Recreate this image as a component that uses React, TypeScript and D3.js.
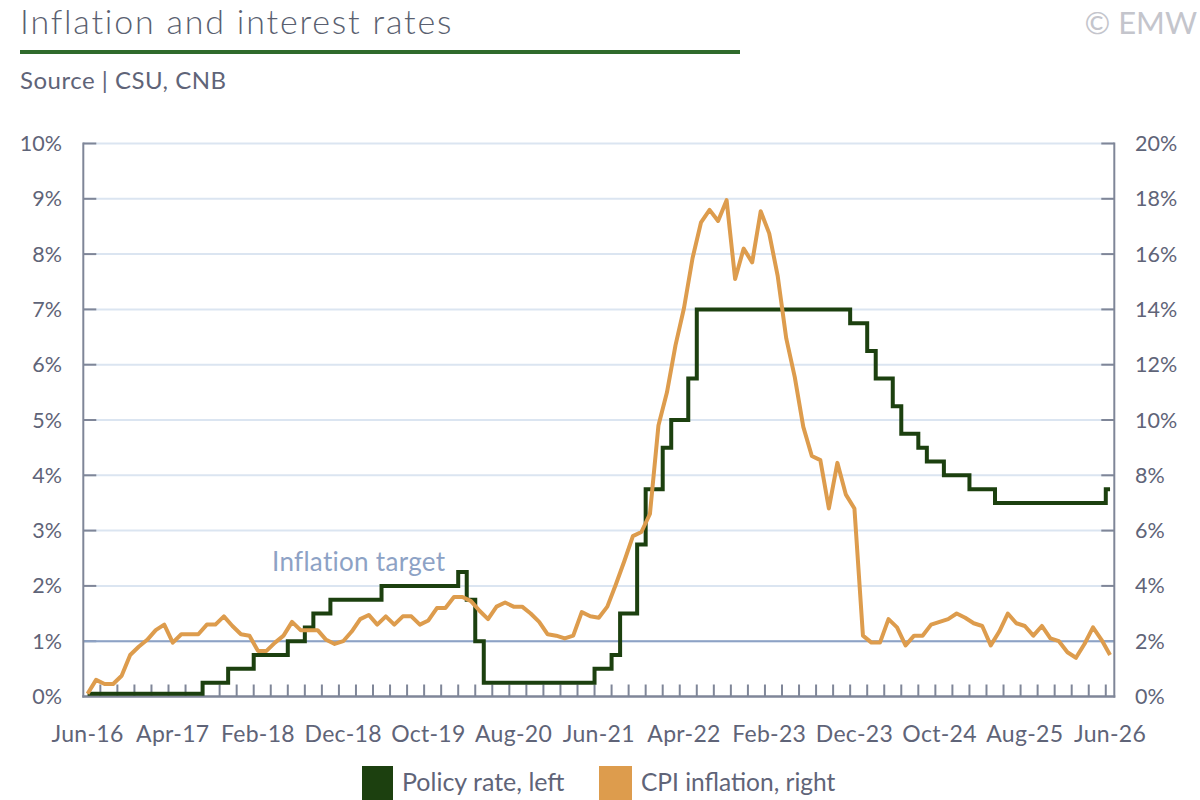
import { useEffect } from "react";
import * as d3 from "d3";

const width = 1200;
const height = 800;

// months Jun-16 .. Jun-26
const months = d3.timeMonths(new Date(2016, 5, 1), new Date(2026, 6, 1));
const monthFormat = d3.timeFormat("%b-%y");

const tickLabels = ["Jun-16", "Apr-17", "Feb-18", "Dec-18", "Oct-19", "Aug-20", "Jun-21",
    "Apr-22", "Feb-23", "Dec-23", "Oct-24", "Aug-25", "Jun-26"];
const leftTicks = [0, 1, 2, 3, 4, 5, 6, 7, 8, 9, 10];
const rightTicks = [0, 2, 4, 6, 8, 10, 12, 14, 16, 18, 20];

// CNB policy rate, % (left axis)
const policyRate = [
    0.05, 0.05, 0.05, 0.05, 0.05, 0.05, 0.05, 0.05, 0.05, 0.05, 0.05, 0.05, 0.05, 0.05,
    0.25, 0.25, 0.25, 0.5, 0.5, 0.5, 0.75, 0.75, 0.75, 0.75, 1.0, 1.0, 1.25, 1.5, 1.5,
    1.75, 1.75, 1.75, 1.75, 1.75, 1.75, 2.0, 2.0, 2.0, 2.0, 2.0, 2.0, 2.0, 2.0, 2.0,
    2.25, 1.75, 1.0, 0.25, 0.25, 0.25, 0.25, 0.25, 0.25, 0.25, 0.25, 0.25, 0.25, 0.25,
    0.25, 0.25, 0.5, 0.5, 0.75, 1.5, 1.5, 2.75, 3.75, 3.75, 4.5, 5.0, 5.0, 5.75,
    7.0, 7.0, 7.0, 7.0, 7.0, 7.0, 7.0, 7.0, 7.0, 7.0, 7.0, 7.0, 7.0, 7.0, 7.0, 7.0, 7.0, 7.0,
    6.75, 6.75, 6.25, 5.75, 5.75, 5.25, 4.75, 4.75, 4.5, 4.25, 4.25, 4.0, 4.0, 4.0,
    3.75, 3.75, 3.75, 3.5, 3.5, 3.5, 3.5, 3.5, 3.5, 3.5, 3.5, 3.5, 3.5, 3.5, 3.5, 3.5,
    3.75,
];

// CPI inflation y/y, % (right axis)
const cpiInflation = [
    0.1, 0.6, 0.45, 0.45, 0.75, 1.5, 1.8, 2.05, 2.4, 2.6, 1.95, 2.25, 2.25, 2.25, 2.6, 2.6,
    2.9, 2.55, 2.25, 2.2, 1.65, 1.65, 1.95, 2.2, 2.7, 2.4, 2.4, 2.4, 2.05, 1.9, 2.0, 2.35,
    2.8, 2.95, 2.6, 2.9, 2.6, 2.9, 2.9, 2.6, 2.75, 3.2, 3.2, 3.6, 3.6, 3.45, 3.1, 2.8,
    3.25, 3.4, 3.25, 3.25, 3.0, 2.7, 2.25, 2.2, 2.1, 2.2, 3.05, 2.9, 2.85, 3.25, 4.05, 4.9,
    5.8, 5.95, 6.6, 9.8, 11.0, 12.7, 14.05, 15.85, 17.15, 17.6, 17.2, 17.95, 15.1, 16.2,
    15.7, 17.55, 16.75, 15.2, 12.95, 11.55, 9.75, 8.7, 8.55, 6.8, 8.45, 7.3, 6.8, 2.2,
    1.95, 1.95, 2.8, 2.5, 1.85, 2.2, 2.2, 2.6, 2.7, 2.8, 3.0, 2.85, 2.65, 2.55, 1.85, 2.35,
    3.0, 2.65, 2.55, 2.2, 2.55, 2.1, 2.0, 1.6, 1.4, 1.9, 2.5, 2.05, 1.5,
];

const inflationTarget = 2; // % on right axis

const textColor = "#5f6478";
const axisColor = "#7f8698";
const gridColor = "#dbe5f1";
const targetColor = "#8da2c5";
const policyColor = "#1c400f";
const cpiColor = "#dd9c4d";
const font = "Lato, 'Open Sans', sans-serif";

export default function App() {
    useEffect(() => {
        document.body.style.margin = "0";
    }, []);

    const left = 83.3;
    const right = 1114.3;
    const top = 143.5;
    const bottom = 696.5;

    const x = d3.scaleBand<number>()
        .domain(d3.range(months.length))
        .range([left, right])
        .padding(0);
    const xc = (i: number) => (x(i) as number) + x.bandwidth() / 2;

    const yL = d3.scaleLinear().domain([0, 10]).range([bottom, top]);
    const yR = d3.scaleLinear().domain([0, 20]).range([bottom, top]);

    const policyLine = d3.line<number>()
        .x((_, i) => xc(i))
        .y((d) => yL(d))
        .curve(d3.curveStep);

    const cpiLine = d3.line<number>()
        .x((_, i) => xc(i))
        .y((d) => yR(d));

    const minorTicks = d3.range(2, months.length, 2);

    return (
        <svg width={width} height={height} style={{ display: "block", background: "#fff" }}
            fontFamily={font}>
            <text x={20} y={33.5} fontSize={34} letterSpacing={1.8} fontWeight={300}
                fill="#5a5f70">Inflation and interest rates</text>
            <rect x={20} y={50} width={720} height={4} fill="#2f6b2c" />
            <text x={20} y={89} fontSize={24} letterSpacing={0.5} fill={textColor}>Source | CSU, CNB</text>
            <text x={1197} y={34} fontSize={31} fill="#c4c5cc" textAnchor="end">© EMW</text>

            {/* gridlines */}
            {leftTicks.filter((t) => t > 0).map((t) => (
                <g key={"g" + t}>
                    <line x1={left} x2={right} y1={yL(t)} y2={yL(t)} stroke={gridColor} strokeWidth={2} />
                    <line x1={left} x2={left + 13} y1={yL(t)} y2={yL(t)} stroke={axisColor} strokeWidth={2} />
                    <line x1={right - 13} x2={right} y1={yL(t)} y2={yL(t)} stroke={axisColor} strokeWidth={2} />
                </g>
            ))}
            <line x1={left} x2={right} y1={yR(inflationTarget)} y2={yR(inflationTarget)}
                stroke={targetColor} strokeWidth={2} />

            {/* axes */}
            <line x1={left} x2={left} y1={top - 1} y2={bottom + 1} stroke={axisColor} strokeWidth={2} />
            <line x1={right} x2={right} y1={top - 1} y2={bottom + 1} stroke={axisColor} strokeWidth={2} />
            <line x1={left - 1} x2={right + 1} y1={bottom} y2={bottom} stroke={axisColor} strokeWidth={2.5} />
            {minorTicks.map((i) => (
                <line key={"t" + i} x1={x(i)} x2={x(i)} y1={bottom} y2={bottom - 12}
                    stroke={axisColor} strokeWidth={2} />
            ))}

            {leftTicks.map((t) => (
                <text key={"l" + t} x={62} y={yL(t)} dy="0.35em" fontSize={21.5} fill={textColor}
                    textAnchor="end">{t}%</text>
            ))}
            {rightTicks.map((t) => (
                <text key={"r" + t} x={1135} y={yR(t)} dy="0.35em" fontSize={21.5} fill={textColor}>{t}%</text>
            ))}
            {months.map((m, i) => tickLabels.includes(monthFormat(m)) ? (
                <text key={"x" + i} x={xc(i)} y={741.5} fontSize={23} letterSpacing={0.3} fill={textColor}
                    textAnchor="middle">{monthFormat(m)}</text>
            ) : null)}

            {/* series */}
            <path d={policyLine(policyRate) ?? ""} fill="none" stroke={policyColor} strokeWidth={4}
                strokeLinejoin="miter" />
            <path d={cpiLine(cpiInflation) ?? ""} fill="none" stroke={cpiColor} strokeWidth={4}
                strokeLinejoin="round" />

            <text x={272} y={571} fontSize={26} letterSpacing={0.3} fill={targetColor}>Inflation target</text>

            {/* legend */}
            <rect x={362} y={766} width={31} height={34} fill={policyColor} />
            <text x={402} y={791} fontSize={25} fill={textColor}>Policy rate, left</text>
            <rect x={599} y={766} width={33} height={34} fill={cpiColor} />
            <text x={641} y={791} fontSize={24.5} fill={textColor}>CPI inflation, right</text>
        </svg>
    );
}
